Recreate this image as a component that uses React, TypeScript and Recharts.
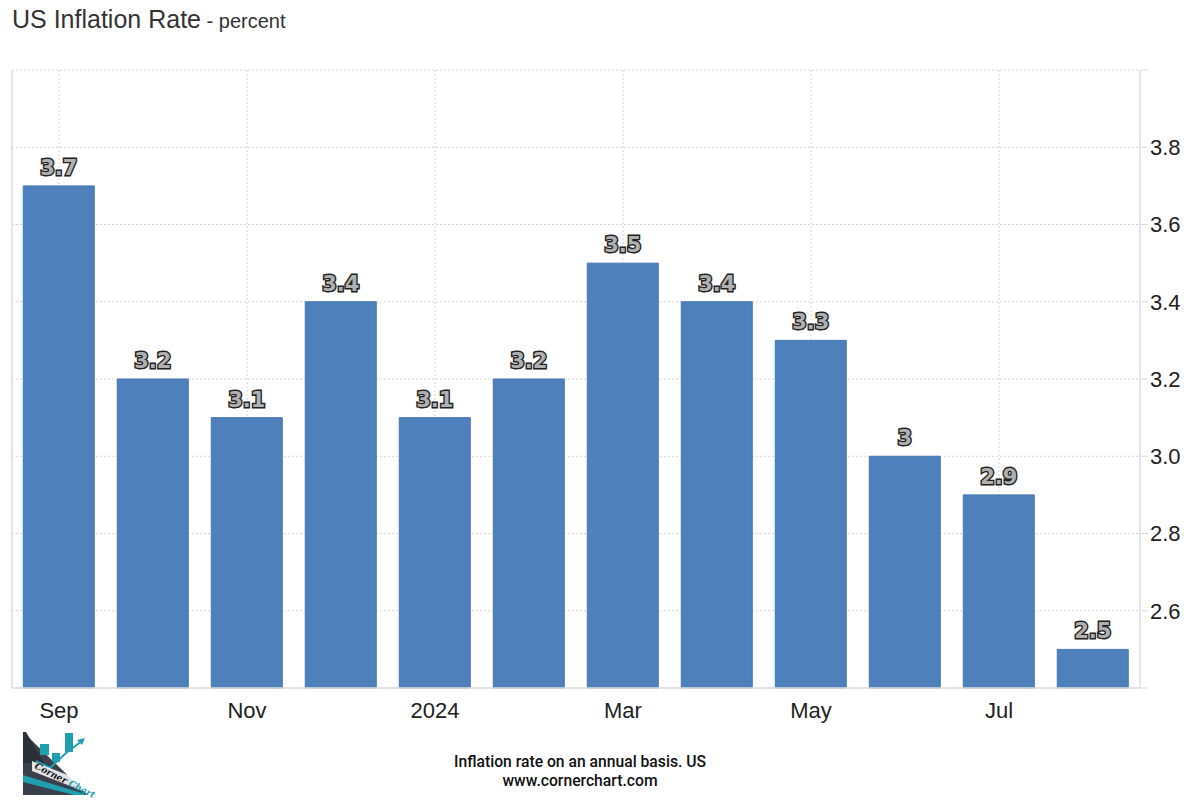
import React from "react";
import { BarChart, Bar, XAxis, YAxis, CartesianGrid, ReferenceLine, LabelList } from "recharts";

const months = ["Sep", "Oct", "Nov", "Dec", "2024", "Feb", "Mar", "Apr", "May", "Jun", "Jul", "Aug"];
const rates = [3.7, 3.2, 3.1, 3.4, 3.1, 3.2, 3.5, 3.4, 3.3, 3.0, 2.9, 2.5];
const yTicks = [2.4, 2.6, 2.8, 3.0, 3.2, 3.4, 3.6, 3.8, 4.0];

const data = months.map((m, i) => ({ month: m, rate: rates[i] }));
const gridMonths = months.filter((_, i) => i % 2 === 0);

const AXIS_FONT = "'Liberation Sans', Arial, sans-serif";

function ValueLabel(props: any) {
  const { x, y, width, value } = props;
  return (
    <text
      x={x + width / 2}
      y={y - 11}
      textAnchor="middle"
      fontFamily="'DejaVu Sans', Verdana, sans-serif"
      fontWeight="bold"
      fontSize={21}
      fill="#b0b0b0"
      stroke="#222"
      strokeWidth={2.8}
      style={{ paintOrder: "stroke" }}
    >
      {String(value)}
    </text>
  );
}

// dotted vertical grid at every labelled month (centre of its band)
function verticalGrid({ xAxis, offset }: any) {
  if (xAxis && typeof xAxis.scale === "function") {
    const band = xAxis.scale.bandwidth ? xAxis.scale.bandwidth() : 0;
    return gridMonths.map((m) => xAxis.scale(m) + band / 2);
  }
  const step = offset.width / months.length;
  return gridMonths.map((m) => offset.left + (months.indexOf(m) + 0.5) * step);
}

function Logo() {
  return (
    <svg
      width={70}
      height={66}
      style={{ position: "absolute", left: 22, top: 731, overflow: "visible" }}
      viewBox="0 0 70 66"
    >
      <polygon points="1,1 1,64 66,64" fill="#3a3f4b" />
      <polygon points="1,44 66,64 52,64 1,51" fill="#1fa0b0" />
      <polygon points="1,1 4,1 22,32 1,32" fill="#2b2f38" />
      <rect x={18} y={13} width={9} height={11} fill="#1fa0b0" />
      <rect x={30} y={22} width={8} height={9} fill="#1fa0b0" />
      <rect x={43} y={2} width={8} height={19} fill="#1fa0b0" />
      <polyline points="14,30 28,37 44,22 60,10" fill="none" stroke="#1fa0b0" strokeWidth={2} />
      <polygon points="63,7 55,9 60,14" fill="#1fa0b0" />
      <polygon points="10,30 66,52 66,62 10,40" fill="#ffffff" opacity={0.85} />
      <text
        x={12}
        y={37}
        transform="rotate(27 12 37)"
        fontFamily="'DejaVu Serif', serif"
        fontStyle="italic"
        fontWeight="bold"
        fontSize={9}
        fill="#111"
      >
        Corner <tspan fill="#1fa0b0">Chart</tspan>
      </text>
    </svg>
  );
}

export default function App() {
  return (
    <div
      style={{
        position: "absolute",
        left: 0,
        top: 0,
        width: 1200,
        height: 808,
        background: "#fff",
        fontFamily: AXIS_FONT,
      }}
    >
      <div style={{ position: "absolute", left: 12, top: 5, color: "#333", whiteSpace: "nowrap" }}>
        <span style={{ fontSize: 25 }}>US Inflation Rate</span>
        <span style={{ fontSize: 20 }}> - percent</span>
      </div>
      <BarChart
        width={1200}
        height={808}
        data={data}
        margin={{ top: 70, right: 0, bottom: 80, left: 12 }}
        barCategoryGap="12%"
      >
        <CartesianGrid
          stroke="#d4d4d4"
          strokeDasharray="2 2"
          verticalCoordinatesGenerator={verticalGrid}
        />
        <ReferenceLine x="Sep" position="start" stroke="#dcdcdc" strokeWidth={1.5} />
        <XAxis
          dataKey="month"
          interval={1}
          tickLine={false}
          axisLine={{ stroke: "#dcdcdc", strokeWidth: 1.5 }}
          height={40}
          tickSize={6}
          tickMargin={8}
          tick={{ fill: "#222", fontSize: 22, fontFamily: AXIS_FONT }}
        />
        <YAxis
          orientation="right"
          width={60}
          domain={[2.4, 4.0]}
          ticks={yTicks}
          interval={0}
          tickFormatter={(v: number) => (v <= 2.41 || v >= 3.99 ? "" : v.toFixed(1))}
          axisLine={{ stroke: "#dcdcdc", strokeWidth: 1.5 }}
          tickLine={{ stroke: "#dcdcdc" }}
          tickSize={8}
          tickMargin={2}
          tick={{ fill: "#222", fontSize: 22, fontFamily: AXIS_FONT }}
        />
        <Bar dataKey="rate" fill="#4e81bc" stroke="#4677b0" strokeWidth={1} isAnimationActive={false}>
          <LabelList dataKey="rate" content={ValueLabel} />
        </Bar>
      </BarChart>
      <div
        style={{
          position: "absolute",
          left: 380,
          width: 400,
          top: 752,
          textAlign: "center",
          fontFamily: "Roboto, sans-serif",
          fontWeight: 500,
          fontSize: 15.7,
          lineHeight: "19px",
          color: "#111",
        }}
      >
        <div>Inflation rate on an annual basis. US</div>
        <div>www.cornerchart.com</div>
      </div>
      <Logo />
    </div>
  );
}
